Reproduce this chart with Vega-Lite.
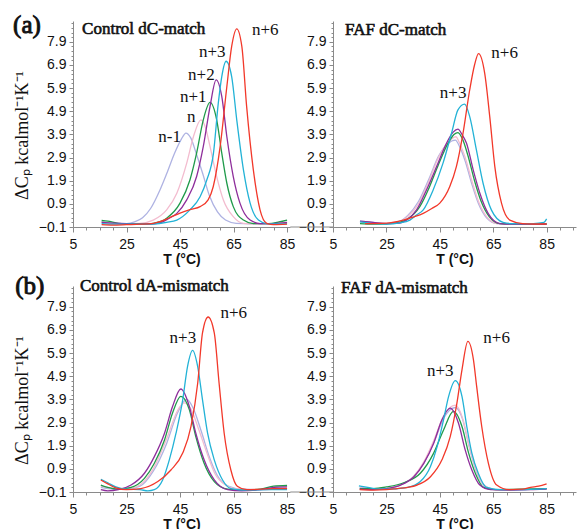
{
"$schema":"https://vega.github.io/schema/vega-lite/v6.json",
"autosize":{"type":"none"},
"padding":{"left":73,"top":21,"right":505,"bottom":508},
"background":"white",
"config":{"view":{"stroke":null},"axis":{"grid":false,"domainColor":"#8a8a8a","tickColor":"#8a8a8a","labelFont":"Liberation Sans","labelFontSize":14,"labelColor":"#111","titleFont":"Liberation Serif","titleColor":"#111","labelFlush":false,"labelOverlap":false},"text":{"font":"Liberation Serif","color":"#111","align":"left","baseline":"alphabetic"}},
"datasets":{
"a1":[
{"s":"n-1","t":15.7,"v":0.12},{"s":"n-1","t":20,"v":0.06},{"s":"n-1","t":25,"v":0.05},{"s":"n-1","t":28,"v":0.12},{"s":"n-1","t":31,"v":0.3},{"s":"n-1","t":34,"v":0.7},{"s":"n-1","t":37.5,"v":1.5},{"s":"n-1","t":40,"v":2.2},{"s":"n-1","t":43,"v":3.1},{"s":"n-1","t":45.5,"v":3.7},{"s":"n-1","t":47.2,"v":3.96},{"s":"n-1","t":49,"v":3.75},{"s":"n-1","t":51,"v":3.1},{"s":"n-1","t":53.5,"v":2.2},{"s":"n-1","t":56,"v":1.25},{"s":"n-1","t":59,"v":0.55},{"s":"n-1","t":62,"v":0.2},{"s":"n-1","t":66,"v":0.06},{"s":"n-1","t":72,"v":0.04},{"s":"n-1","t":80,"v":0.05},{"s":"n-1","t":85,"v":0.08},
{"s":"n","t":15.7,"v":0.1},{"s":"n","t":20,"v":0.05},{"s":"n","t":25,"v":0.04},{"s":"n","t":30,"v":0.06},{"s":"n","t":35,"v":0.2},{"s":"n","t":40,"v":0.64},{"s":"n","t":43.8,"v":1.36},{"s":"n","t":47.5,"v":2.66},{"s":"n","t":50,"v":3.8},{"s":"n","t":52.8,"v":4.53},{"s":"n","t":54.5,"v":4.2},{"s":"n","t":56.2,"v":3.38},{"s":"n","t":58.7,"v":2.08},{"s":"n","t":61.2,"v":1.07},{"s":"n","t":64.9,"v":0.35},{"s":"n","t":68.7,"v":0.06},{"s":"n","t":75,"v":0.03},{"s":"n","t":85,"v":0.08},
{"s":"n+1","t":15.7,"v":0.18},{"s":"n+1","t":18,"v":0.15},{"s":"n+1","t":22,"v":0.06},{"s":"n+1","t":27,"v":0.03},{"s":"n+1","t":32,"v":0.03},{"s":"n+1","t":35,"v":0.06},{"s":"n+1","t":40,"v":0.28},{"s":"n+1","t":45,"v":0.93},{"s":"n+1","t":48.7,"v":1.93},{"s":"n+1","t":51.2,"v":3.09},{"s":"n+1","t":53.7,"v":4.53},{"s":"n+1","t":56.2,"v":5.28},{"s":"n+1","t":58.7,"v":4.53},{"s":"n+1","t":60.6,"v":3.09},{"s":"n+1","t":62.5,"v":1.79},{"s":"n+1","t":64.9,"v":0.78},{"s":"n+1","t":68.7,"v":0.2},{"s":"n+1","t":72.4,"v":0.05},{"s":"n+1","t":78,"v":0.05},{"s":"n+1","t":82,"v":0.12},{"s":"n+1","t":85,"v":0.2},
{"s":"n+2","t":15.7,"v":0.1},{"s":"n+2","t":20,"v":0.07},{"s":"n+2","t":25,"v":0.04},{"s":"n+2","t":30,"v":0.02},{"s":"n+2","t":34,"v":0.03},{"s":"n+2","t":37.5,"v":0.08},{"s":"n+2","t":40.5,"v":0.25},{"s":"n+2","t":43.8,"v":0.49},{"s":"n+2","t":47.5,"v":1.07},{"s":"n+2","t":51.2,"v":2.08},{"s":"n+2","t":53.7,"v":3.38},{"s":"n+2","t":56.2,"v":5.1},{"s":"n+2","t":58.5,"v":6.26},{"s":"n+2","t":60.6,"v":5.54},{"s":"n+2","t":62.5,"v":3.8},{"s":"n+2","t":64.9,"v":2.08},{"s":"n+2","t":67.4,"v":0.93},{"s":"n+2","t":71.2,"v":0.2},{"s":"n+2","t":75,"v":0.05},{"s":"n+2","t":80,"v":0.05},{"s":"n+2","t":85,"v":0.1},
{"s":"n+3","t":15.7,"v":0.05},{"s":"n+3","t":20,"v":0.02},{"s":"n+3","t":25,"v":0.02},{"s":"n+3","t":30,"v":0.02},{"s":"n+3","t":35,"v":0.03},{"s":"n+3","t":40,"v":0.1},{"s":"n+3","t":43.8,"v":0.2},{"s":"n+3","t":48.7,"v":0.64},{"s":"n+3","t":52.5,"v":1.21},{"s":"n+3","t":55,"v":1.93},{"s":"n+3","t":57.5,"v":3.09},{"s":"n+3","t":59.3,"v":5.25},{"s":"n+3","t":60.6,"v":6.4},{"s":"n+3","t":62.2,"v":7.06},{"s":"n+3","t":64.3,"v":6.4},{"s":"n+3","t":66.2,"v":4.53},{"s":"n+3","t":68.7,"v":2.37},{"s":"n+3","t":71.2,"v":0.93},{"s":"n+3","t":74.3,"v":0.2},{"s":"n+3","t":77.4,"v":0.05},{"s":"n+3","t":82,"v":0.03},{"s":"n+3","t":85,"v":0.05},
{"s":"n+6","t":15.7,"v":0.0},{"s":"n+6","t":20,"v":-0.02},{"s":"n+6","t":25,"v":0.0},{"s":"n+6","t":30,"v":0.02},{"s":"n+6","t":35,"v":0.06},{"s":"n+6","t":37.5,"v":0.13},{"s":"n+6","t":41,"v":0.3},{"s":"n+6","t":45,"v":0.5},{"s":"n+6","t":49,"v":0.66},{"s":"n+6","t":52.5,"v":0.78},{"s":"n+6","t":55.5,"v":1.07},{"s":"n+6","t":57.4,"v":1.64},{"s":"n+6","t":60,"v":3.38},{"s":"n+6","t":62.5,"v":5.97},{"s":"n+6","t":64.3,"v":7.7},{"s":"n+6","t":66.2,"v":8.46},{"s":"n+6","t":68.1,"v":7.7},{"s":"n+6","t":69.9,"v":5.1},{"s":"n+6","t":72.4,"v":2.37},{"s":"n+6","t":74.9,"v":0.64},{"s":"n+6","t":77.4,"v":0.06},{"s":"n+6","t":80,"v":0.0},{"s":"n+6","t":85,"v":0.02}
],
"a2":[
{"s":"n-1","t":15.1,"v":0.15},{"s":"n-1","t":20,"v":0.1},{"s":"n-1","t":25,"v":0.05},{"s":"n-1","t":30,"v":0.15},{"s":"n-1","t":33,"v":0.4},{"s":"n-1","t":37,"v":1.0},{"s":"n-1","t":41,"v":2.0},{"s":"n-1","t":44.5,"v":2.95},{"s":"n-1","t":48,"v":3.5},{"s":"n-1","t":50.8,"v":3.65},{"s":"n-1","t":52.5,"v":3.35},{"s":"n-1","t":54.5,"v":2.75},{"s":"n-1","t":57,"v":1.75},{"s":"n-1","t":59.5,"v":0.9},{"s":"n-1","t":62.5,"v":0.3},{"s":"n-1","t":66.5,"v":0.05},{"s":"n-1","t":75,"v":0.03},{"s":"n-1","t":85,"v":0.03},
{"s":"n","t":15.1,"v":0.12},{"s":"n","t":20,"v":0.08},{"s":"n","t":25,"v":0.05},{"s":"n","t":30,"v":0.12},{"s":"n","t":33,"v":0.35},{"s":"n","t":37,"v":0.9},{"s":"n","t":41,"v":1.9},{"s":"n","t":44.5,"v":2.9},{"s":"n","t":48,"v":3.55},{"s":"n","t":51,"v":3.8},{"s":"n","t":52.5,"v":3.5},{"s":"n","t":54.5,"v":2.9},{"s":"n","t":57,"v":1.9},{"s":"n","t":59.5,"v":1.0},{"s":"n","t":62.5,"v":0.35},{"s":"n","t":66.5,"v":0.05},{"s":"n","t":75,"v":0.03},{"s":"n","t":85,"v":0.03},
{"s":"n+1","t":15.1,"v":0.05},{"s":"n+1","t":20,"v":0.02},{"s":"n+1","t":25,"v":0.04},{"s":"n+1","t":30,"v":0.1},{"s":"n+1","t":33,"v":0.25},{"s":"n+1","t":37.5,"v":0.78},{"s":"n+1","t":41,"v":1.6},{"s":"n+1","t":44.5,"v":2.6},{"s":"n+1","t":48,"v":3.5},{"s":"n+1","t":50.3,"v":3.9},{"s":"n+1","t":51.8,"v":3.98},{"s":"n+1","t":53.5,"v":3.7},{"s":"n+1","t":55.5,"v":3.0},{"s":"n+1","t":58,"v":1.9},{"s":"n+1","t":60.5,"v":1.0},{"s":"n+1","t":63.5,"v":0.35},{"s":"n+1","t":67.5,"v":0.05},{"s":"n+1","t":75,"v":0.03},{"s":"n+1","t":85,"v":0.03},
{"s":"n+2","t":15.1,"v":0.15},{"s":"n+2","t":20,"v":0.1},{"s":"n+2","t":25,"v":0.05},{"s":"n+2","t":30,"v":0.07},{"s":"n+2","t":32.6,"v":0.2},{"s":"n+2","t":36.3,"v":0.64},{"s":"n+2","t":40,"v":1.5},{"s":"n+2","t":43.8,"v":2.51},{"s":"n+2","t":47.5,"v":3.52},{"s":"n+2","t":50,"v":4.0},{"s":"n+2","t":51.8,"v":4.13},{"s":"n+2","t":53.3,"v":3.9},{"s":"n+2","t":55,"v":3.52},{"s":"n+2","t":57.5,"v":2.37},{"s":"n+2","t":60,"v":1.36},{"s":"n+2","t":63.1,"v":0.49},{"s":"n+2","t":67.5,"v":0.05},{"s":"n+2","t":72,"v":0.02},{"s":"n+2","t":80,"v":0.02},{"s":"n+2","t":85,"v":0.02},
{"s":"n+3","t":15.1,"v":0.12},{"s":"n+3","t":20,"v":0.05},{"s":"n+3","t":25,"v":0.03},{"s":"n+3","t":30,"v":0.08},{"s":"n+3","t":33.8,"v":0.2},{"s":"n+3","t":36,"v":0.4},{"s":"n+3","t":38.8,"v":0.64},{"s":"n+3","t":42.5,"v":1.5},{"s":"n+3","t":46.2,"v":2.66},{"s":"n+3","t":49.4,"v":3.96},{"s":"n+3","t":51.8,"v":4.96},{"s":"n+3","t":54.3,"v":5.21},{"s":"n+3","t":56.2,"v":4.67},{"s":"n+3","t":58.7,"v":3.23},{"s":"n+3","t":61.2,"v":1.79},{"s":"n+3","t":64.3,"v":0.64},{"s":"n+3","t":68.7,"v":0.1},{"s":"n+3","t":72,"v":0.05},{"s":"n+3","t":80,"v":0.05},{"s":"n+3","t":84,"v":0.1},{"s":"n+3","t":85,"v":0.25},
{"s":"n+6","t":17,"v":0.05},{"s":"n+6","t":25,"v":0.07},{"s":"n+6","t":31.3,"v":0.2},{"s":"n+6","t":35,"v":0.33},{"s":"n+6","t":38.8,"v":0.49},{"s":"n+6","t":42,"v":0.7},{"s":"n+6","t":45,"v":0.93},{"s":"n+6","t":48.7,"v":1.64},{"s":"n+6","t":51.2,"v":2.51},{"s":"n+6","t":53.7,"v":3.96},{"s":"n+6","t":56.2,"v":5.83},{"s":"n+6","t":58,"v":6.9},{"s":"n+6","t":59.5,"v":7.39},{"s":"n+6","t":61.8,"v":6.55},{"s":"n+6","t":63.7,"v":4.67},{"s":"n+6","t":65.6,"v":2.51},{"s":"n+6","t":68.1,"v":0.93},{"s":"n+6","t":71.2,"v":0.2},{"s":"n+6","t":76,"v":0.05},{"s":"n+6","t":80,"v":0.03},{"s":"n+6","t":85,"v":0.03}
],
"b1":[
{"s":"n-1","t":15.4,"v":0.1},{"s":"n-1","t":20,"v":0.03},{"s":"n-1","t":25,"v":0.02},{"s":"n-1","t":30,"v":0.15},{"s":"n-1","t":35,"v":0.8},{"s":"n-1","t":40,"v":2.0},{"s":"n-1","t":44,"v":3.3},{"s":"n-1","t":47.5,"v":3.9},{"s":"n-1","t":50,"v":3.5},{"s":"n-1","t":53,"v":2.5},{"s":"n-1","t":56,"v":1.4},{"s":"n-1","t":59,"v":0.6},{"s":"n-1","t":63,"v":0.15},{"s":"n-1","t":68,"v":0.02},{"s":"n-1","t":75,"v":0.0},{"s":"n-1","t":85,"v":0.05},
{"s":"n","t":15.4,"v":0.15},{"s":"n","t":20,"v":0.05},{"s":"n","t":25,"v":0.02},{"s":"n","t":30,"v":0.2},{"s":"n","t":35,"v":0.9},{"s":"n","t":40,"v":2.2},{"s":"n","t":44,"v":3.4},{"s":"n","t":46.5,"v":3.75},{"s":"n","t":49,"v":3.5},{"s":"n","t":52,"v":2.6},{"s":"n","t":55,"v":1.6},{"s":"n","t":58,"v":0.7},{"s":"n","t":62,"v":0.2},{"s":"n","t":67,"v":0.02},{"s":"n","t":75,"v":0.0},{"s":"n","t":85,"v":0.08},
{"s":"n+1","t":15.4,"v":0.2},{"s":"n+1","t":18,"v":0.1},{"s":"n+1","t":22,"v":0.02},{"s":"n+1","t":26.7,"v":0.1},{"s":"n+1","t":31.7,"v":0.49},{"s":"n+1","t":35.4,"v":1.14},{"s":"n+1","t":39.2,"v":2.15},{"s":"n+1","t":42.2,"v":3.31},{"s":"n+1","t":45.3,"v":4.03},{"s":"n+1","t":48.5,"v":3.45},{"s":"n+1","t":50.9,"v":2.29},{"s":"n+1","t":54,"v":1.14},{"s":"n+1","t":57.8,"v":0.35},{"s":"n+1","t":62.8,"v":0.02},{"s":"n+1","t":68,"v":-0.02},{"s":"n+1","t":75,"v":0.02},{"s":"n+1","t":80,"v":0.15},{"s":"n+1","t":85,"v":0.18},
{"s":"n+2","t":15.4,"v":0.0},{"s":"n+2","t":18,"v":-0.05},{"s":"n+2","t":22,"v":0.0},{"s":"n+2","t":26.7,"v":0.2},{"s":"n+2","t":31.7,"v":0.71},{"s":"n+2","t":35.4,"v":1.43},{"s":"n+2","t":39.2,"v":2.44},{"s":"n+2","t":42.2,"v":3.59},{"s":"n+2","t":45.3,"v":4.35},{"s":"n+2","t":48.5,"v":3.59},{"s":"n+2","t":50.9,"v":2.44},{"s":"n+2","t":54,"v":1.29},{"s":"n+2","t":57.8,"v":0.42},{"s":"n+2","t":62.8,"v":0.0},{"s":"n+2","t":68,"v":-0.05},{"s":"n+2","t":75,"v":0.0},{"s":"n+2","t":80,"v":0.1},{"s":"n+2","t":85,"v":0.12},
{"s":"n+3","t":15.4,"v":0.45},{"s":"n+3","t":18,"v":0.3},{"s":"n+3","t":21,"v":0.12},{"s":"n+3","t":25,"v":0.02},{"s":"n+3","t":30,"v":0.0},{"s":"n+3","t":33,"v":-0.05},{"s":"n+3","t":35.4,"v":0.0},{"s":"n+3","t":38.5,"v":0.42},{"s":"n+3","t":41,"v":1.29},{"s":"n+3","t":43.5,"v":2.44},{"s":"n+3","t":46,"v":3.88},{"s":"n+3","t":47.8,"v":5.32},{"s":"n+3","t":49.7,"v":6.02},{"s":"n+3","t":51.6,"v":5.32},{"s":"n+3","t":53.4,"v":3.88},{"s":"n+3","t":55.3,"v":2.44},{"s":"n+3","t":57.8,"v":1.29},{"s":"n+3","t":60.9,"v":0.42},{"s":"n+3","t":64,"v":0.05},{"s":"n+3","t":70,"v":-0.02},{"s":"n+3","t":78,"v":0.0},{"s":"n+3","t":85,"v":0.0},
{"s":"n+6","t":15.4,"v":0.42},{"s":"n+6","t":18,"v":0.25},{"s":"n+6","t":21,"v":0.08},{"s":"n+6","t":25,"v":0.0},{"s":"n+6","t":30.4,"v":0.05},{"s":"n+6","t":36.7,"v":0.35},{"s":"n+6","t":41.6,"v":0.85},{"s":"n+6","t":46,"v":1.58},{"s":"n+6","t":49.1,"v":2.73},{"s":"n+6","t":51.6,"v":4.6},{"s":"n+6","t":53.4,"v":6.77},{"s":"n+6","t":55.5,"v":7.46},{"s":"n+6","t":57.8,"v":6.77},{"s":"n+6","t":59.6,"v":4.6},{"s":"n+6","t":61.5,"v":2.44},{"s":"n+6","t":64,"v":0.85},{"s":"n+6","t":66.4,"v":0.15},{"s":"n+6","t":70,"v":0.0},{"s":"n+6","t":75,"v":0.02},{"s":"n+6","t":80,"v":0.05},{"s":"n+6","t":85,"v":0.05}
],
"b2":[
{"s":"n-1","t":15,"v":0.1},{"s":"n-1","t":20,"v":0.05},{"s":"n-1","t":25,"v":0.05},{"s":"n-1","t":30,"v":0.2},{"s":"n-1","t":35,"v":0.55},{"s":"n-1","t":39,"v":1.15},{"s":"n-1","t":43,"v":2.1},{"s":"n-1","t":46.5,"v":3.1},{"s":"n-1","t":50.8,"v":3.55},{"s":"n-1","t":53.5,"v":3.05},{"s":"n-1","t":56,"v":1.85},{"s":"n-1","t":58.5,"v":0.85},{"s":"n-1","t":61.5,"v":0.2},{"s":"n-1","t":66,"v":0.0},{"s":"n-1","t":75,"v":0.0},{"s":"n-1","t":85,"v":0.05},
{"s":"n","t":15,"v":0.08},{"s":"n","t":20,"v":0.04},{"s":"n","t":25,"v":0.05},{"s":"n","t":30,"v":0.2},{"s":"n","t":35,"v":0.55},{"s":"n","t":39,"v":1.2},{"s":"n","t":43,"v":2.2},{"s":"n","t":46.5,"v":3.2},{"s":"n","t":50.8,"v":3.65},{"s":"n","t":53.5,"v":3.1},{"s":"n","t":56,"v":1.9},{"s":"n","t":58.5,"v":0.9},{"s":"n","t":61.5,"v":0.2},{"s":"n","t":66,"v":0.0},{"s":"n","t":75,"v":0.0},{"s":"n","t":85,"v":0.05},
{"s":"n+1","t":15,"v":0.05},{"s":"n+1","t":20,"v":0.05},{"s":"n+1","t":25,"v":0.12},{"s":"n+1","t":31.5,"v":0.3},{"s":"n+1","t":37.7,"v":0.71},{"s":"n+1","t":42.7,"v":1.58},{"s":"n+1","t":46.4,"v":2.58},{"s":"n+1","t":50.1,"v":3.38},{"s":"n+1","t":53.3,"v":2.73},{"s":"n+1","t":55.8,"v":1.58},{"s":"n+1","t":58.3,"v":0.71},{"s":"n+1","t":61.4,"v":0.1},{"s":"n+1","t":66,"v":0.0},{"s":"n+1","t":75,"v":0.02},{"s":"n+1","t":85,"v":0.05},
{"s":"n+2","t":15,"v":0.02},{"s":"n+2","t":20,"v":0.0},{"s":"n+2","t":25,"v":0.05},{"s":"n+2","t":30.3,"v":0.2},{"s":"n+2","t":35.3,"v":0.56},{"s":"n+2","t":39,"v":1.14},{"s":"n+2","t":42.7,"v":2.01},{"s":"n+2","t":45.8,"v":3.02},{"s":"n+2","t":48.9,"v":3.52},{"s":"n+2","t":52,"v":2.87},{"s":"n+2","t":54.5,"v":1.72},{"s":"n+2","t":57,"v":0.85},{"s":"n+2","t":60,"v":0.2},{"s":"n+2","t":64,"v":0.0},{"s":"n+2","t":70,"v":-0.02},{"s":"n+2","t":78,"v":0.0},{"s":"n+2","t":85,"v":0.02},
{"s":"n+3","t":14.7,"v":0.16},{"s":"n+3","t":18,"v":0.1},{"s":"n+3","t":22,"v":0.02},{"s":"n+3","t":27,"v":0.03},{"s":"n+3","t":33,"v":0.1},{"s":"n+3","t":37.7,"v":0.35},{"s":"n+3","t":41.5,"v":1.0},{"s":"n+3","t":44,"v":1.86},{"s":"n+3","t":46.4,"v":3.02},{"s":"n+3","t":48.3,"v":4.03},{"s":"n+3","t":50.8,"v":4.71},{"s":"n+3","t":53.3,"v":4.03},{"s":"n+3","t":55.1,"v":2.73},{"s":"n+3","t":57,"v":1.58},{"s":"n+3","t":59.4,"v":0.71},{"s":"n+3","t":62.5,"v":0.1},{"s":"n+3","t":68,"v":0.0},{"s":"n+3","t":75,"v":0.0},{"s":"n+3","t":85,"v":0.05},
{"s":"n+6","t":15,"v":0.0},{"s":"n+6","t":20,"v":-0.02},{"s":"n+6","t":25,"v":0.0},{"s":"n+6","t":29,"v":0.05},{"s":"n+6","t":33,"v":0.1},{"s":"n+6","t":36.5,"v":0.2},{"s":"n+6","t":41.5,"v":0.56},{"s":"n+6","t":45.8,"v":1.29},{"s":"n+6","t":48.9,"v":2.29},{"s":"n+6","t":51.4,"v":3.74},{"s":"n+6","t":53.3,"v":5.18},{"s":"n+6","t":55.5,"v":6.41},{"s":"n+6","t":57.6,"v":5.61},{"s":"n+6","t":58.8,"v":4.46},{"s":"n+6","t":60.7,"v":2.73},{"s":"n+6","t":63.2,"v":1.14},{"s":"n+6","t":66.3,"v":0.2},{"s":"n+6","t":71,"v":0.0},{"s":"n+6","t":76,"v":0.02},{"s":"n+6","t":79,"v":0.1},{"s":"n+6","t":82,"v":0.15},{"s":"n+6","t":85,"v":0.25}
]
},
"columns":2,
"spacing":{"row":59,"column":43},
"bounds":"flush",
"concat":[
{"width":217,"height":206,
 "layer":[
  {"data":{"name":"a1"},"mark":{"type":"line","interpolate":"monotone","strokeWidth":1.3},
   "encoding":{
    "x":{"field":"t","type":"quantitative","scale":{"domain":[5,86.1],"nice":false,"zero":false},"axis":{"orient":"bottom","values":[5,25,45,65,85],"tickSize":5,"labelPadding":5,"title":"T (°C)","titleFont":"Liberation Sans","titleFontSize":14,"titleFontWeight":"bold","titlePadding":1}},
    "y":{"field":"v","type":"quantitative","scale":{"domain":[-0.1,8.8],"nice":false,"zero":false},"axis":{"orient":"left","values":[-0.1,0.9,1.9,2.9,3.9,4.9,5.9,6.9,7.9],"format":".1f","tickSize":4,"labelPadding":3,"title":"ΔCₚ kcalmol⁻¹K⁻¹","titleFontSize":18,"titleFontWeight":"normal","titlePadding":7,"titleY":114}},
    "color":{"field":"s","type":"nominal","scale":{"domain":["n-1","n","n+1","n+2","n+3","n+6"],"range":["#aeb2e2","#f3bccf","#1f9a4a","#8e2e9b","#22b2d6","#f2382a"]},"legend":null}}},
  {"data":{"values":[{"l":"n+6","t":71.9,"v":8.21},{"l":"n+3","t":52.1,"v":7.26},{"l":"n+2","t":48,"v":6.26},{"l":"n+1","t":45,"v":5.31},{"l":"n","t":47.6,"v":4.45},{"l":"n-1","t":36.9,"v":3.58}]},
   "mark":{"type":"text","fontSize":17},
   "encoding":{"x":{"field":"t","type":"quantitative","axis":{"orient":"bottom","values":[10,15,20,30,35,40,50,55,60,70,75,80],"labels":false,"domain":false,"tickSize":3,"title":null}},
    "y":{"field":"v","type":"quantitative","axis":{"orient":"left","values":[0.1,0.3,0.5,0.7,1.1,1.3,1.5,1.7,2.1,2.3,2.5,2.7,3.1,3.3,3.5,3.7,4.1,4.3,4.5,4.7,5.1,5.3,5.5,5.7,6.1,6.3,6.5,6.7,7.1,7.3,7.5,7.7,8.1,8.3,8.5,8.7],"labels":false,"domain":false,"tickSize":2,"title":null}},
    "text":{"field":"l"}}},
  {"data":{"values":[{}]},"mark":{"type":"text","fontSize":17,"stroke":"#111","strokeWidth":0.6},
   "encoding":{"x":{"datum":8.4,"axis":null},"y":{"datum":8.25,"axis":null},"text":{"value":"Control dC-match"}}},
  {"data":{"values":[{}]},"mark":{"type":"text","fontSize":25,"stroke":"#111","strokeWidth":0.9},
   "encoding":{"x":{"datum":-17.4,"axis":null},"y":{"datum":8.3,"axis":null},"text":{"value":"(a)"}}}
 ],
 "resolve":{"axis":{"x":"independent","y":"independent"}}},
{"width":243,"height":206,
 "layer":[
  {"data":{"values":[{}]},"mark":{"type":"rule","color":"#8a8a8a"},
   "encoding":{"x":{"datum":-11,"axis":null},"x2":{"datum":5},"y":{"datum":-0.1,"axis":null}}},
  {"data":{"name":"a2"},"mark":{"type":"line","interpolate":"monotone","strokeWidth":1.3},
   "encoding":{
    "x":{"field":"t","type":"quantitative","scale":{"domain":[5,96],"nice":false,"zero":false},"axis":{"orient":"bottom","values":[5,25,45,65,85],"tickSize":5,"labelPadding":5,"title":"T (°C)","titleFont":"Liberation Sans","titleFontSize":14,"titleFontWeight":"bold","titlePadding":1}},
    "y":{"field":"v","type":"quantitative","scale":{"domain":[-0.1,8.8],"nice":false,"zero":false},"axis":{"orient":"left","values":[-0.1,0.9,1.9,2.9,3.9,4.9,5.9,6.9,7.9],"format":".1f","tickSize":4,"labelPadding":3,"title":null}},
    "color":{"field":"s","type":"nominal","scale":{"domain":["n-1","n","n+1","n+2","n+3","n+6"],"range":["#aeb2e2","#f3bccf","#1f9a4a","#8e2e9b","#22b2d6","#f2382a"]},"legend":null}}},
  {"data":{"values":[{"l":"n+6","t":64.3,"v":7.22},{"l":"n+3","t":45,"v":5.48}]},
   "mark":{"type":"text","fontSize":17},
   "encoding":{"x":{"field":"t","type":"quantitative","axis":{"orient":"bottom","values":[10,15,20,30,35,40,50,55,60,70,75,80,90,95],"labels":false,"domain":false,"tickSize":3,"title":null}},
    "y":{"field":"v","type":"quantitative","axis":{"orient":"left","values":[0.1,0.3,0.5,0.7,1.1,1.3,1.5,1.7,2.1,2.3,2.5,2.7,3.1,3.3,3.5,3.7,4.1,4.3,4.5,4.7,5.1,5.3,5.5,5.7,6.1,6.3,6.5,6.7,7.1,7.3,7.5,7.7,8.1,8.3,8.5,8.7],"labels":false,"domain":false,"tickSize":2,"title":null}},
    "text":{"field":"l"}}},
  {"data":{"values":[{}]},"mark":{"type":"text","fontSize":17,"stroke":"#111","strokeWidth":0.6},
   "encoding":{"x":{"datum":9.5,"axis":null},"y":{"datum":8.21,"axis":null},"text":{"value":"FAF dC-match"}}}
 ],
 "resolve":{"axis":{"x":"independent","y":"independent"}}},
{"width":217,"height":206,
 "layer":[
  {"data":{"name":"b1"},"mark":{"type":"line","interpolate":"monotone","strokeWidth":1.3},
   "encoding":{
    "x":{"field":"t","type":"quantitative","scale":{"domain":[5,86.1],"nice":false,"zero":false},"axis":{"orient":"bottom","values":[5,25,45,65,85],"tickSize":5,"labelPadding":5,"title":"T (°C)","titleFont":"Liberation Sans","titleFontSize":14,"titleFontWeight":"bold","titlePadding":1}},
    "y":{"field":"v","type":"quantitative","scale":{"domain":[-0.1,8.8],"nice":false,"zero":false},"axis":{"orient":"left","values":[-0.1,0.9,1.9,2.9,3.9,4.9,5.9,6.9,7.9],"format":".1f","tickSize":4,"labelPadding":3,"title":"ΔCₚ kcalmol⁻¹K⁻¹","titleFontSize":18,"titleFontWeight":"normal","titlePadding":7,"titleY":114}},
    "color":{"field":"s","type":"nominal","scale":{"domain":["n-1","n","n+1","n+2","n+3","n+6"],"range":["#aeb2e2","#f3bccf","#1f9a4a","#8e2e9b","#22b2d6","#f2382a"]},"legend":null}}},
  {"data":{"values":[{"l":"n+6","t":60.1,"v":7.43},{"l":"n+3","t":41.1,"v":6.35}]},
   "mark":{"type":"text","fontSize":17},
   "encoding":{"x":{"field":"t","type":"quantitative","axis":{"orient":"bottom","values":[10,15,20,30,35,40,50,55,60,70,75,80],"labels":false,"domain":false,"tickSize":3,"title":null}},
    "y":{"field":"v","type":"quantitative","axis":{"orient":"left","values":[0.1,0.3,0.5,0.7,1.1,1.3,1.5,1.7,2.1,2.3,2.5,2.7,3.1,3.3,3.5,3.7,4.1,4.3,4.5,4.7,5.1,5.3,5.5,5.7,6.1,6.3,6.5,6.7,7.1,7.3,7.5,7.7,8.1,8.3,8.5,8.7],"labels":false,"domain":false,"tickSize":2,"title":null}},
    "text":{"field":"l"}}},
  {"data":{"values":[{}]},"mark":{"type":"text","fontSize":17,"stroke":"#111","strokeWidth":0.6},
   "encoding":{"x":{"datum":7.6,"axis":null},"y":{"datum":8.6,"axis":null},"text":{"value":"Control dA-mismatch"}}},
  {"data":{"values":[{}]},"mark":{"type":"text","fontSize":25,"stroke":"#111","strokeWidth":0.9},
   "encoding":{"x":{"datum":-16.6,"axis":null},"y":{"datum":8.45,"axis":null},"text":{"value":"(b)"}}}
 ],
 "resolve":{"axis":{"x":"independent","y":"independent"}}},
{"width":243,"height":206,
 "layer":[
  {"data":{"values":[{}]},"mark":{"type":"rule","color":"#8a8a8a"},
   "encoding":{"x":{"datum":-11,"axis":null},"x2":{"datum":5},"y":{"datum":-0.1,"axis":null}}},
  {"data":{"name":"b2"},"mark":{"type":"line","interpolate":"monotone","strokeWidth":1.3},
   "encoding":{
    "x":{"field":"t","type":"quantitative","scale":{"domain":[5,96],"nice":false,"zero":false},"axis":{"orient":"bottom","values":[5,25,45,65,85],"tickSize":5,"labelPadding":5,"title":"T (°C)","titleFont":"Liberation Sans","titleFontSize":14,"titleFontWeight":"bold","titlePadding":1}},
    "y":{"field":"v","type":"quantitative","scale":{"domain":[-0.1,8.8],"nice":false,"zero":false},"axis":{"orient":"left","values":[-0.1,0.9,1.9,2.9,3.9,4.9,5.9,6.9,7.9],"format":".1f","tickSize":4,"labelPadding":3,"title":null}},
    "color":{"field":"s","type":"nominal","scale":{"domain":["n-1","n","n+1","n+2","n+3","n+6"],"range":["#aeb2e2","#f3bccf","#1f9a4a","#8e2e9b","#22b2d6","#f2382a"]},"legend":null}}},
  {"data":{"values":[{"l":"n+6","t":61.3,"v":6.35},{"l":"n+3","t":40.2,"v":4.92}]},
   "mark":{"type":"text","fontSize":17},
   "encoding":{"x":{"field":"t","type":"quantitative","axis":{"orient":"bottom","values":[10,15,20,30,35,40,50,55,60,70,75,80,90,95],"labels":false,"domain":false,"tickSize":3,"title":null}},
    "y":{"field":"v","type":"quantitative","axis":{"orient":"left","values":[0.1,0.3,0.5,0.7,1.1,1.3,1.5,1.7,2.1,2.3,2.5,2.7,3.1,3.3,3.5,3.7,4.1,4.3,4.5,4.7,5.1,5.3,5.5,5.7,6.1,6.3,6.5,6.7,7.1,7.3,7.5,7.7,8.1,8.3,8.5,8.7],"labels":false,"domain":false,"tickSize":2,"title":null}},
    "text":{"field":"l"}}},
  {"data":{"values":[{}]},"mark":{"type":"text","fontSize":17,"stroke":"#111","strokeWidth":0.6},
   "encoding":{"x":{"datum":8,"axis":null},"y":{"datum":8.51,"axis":null},"text":{"value":"FAF dA-mismatch"}}}
 ],
 "resolve":{"axis":{"x":"independent","y":"independent"}}}
]
}
